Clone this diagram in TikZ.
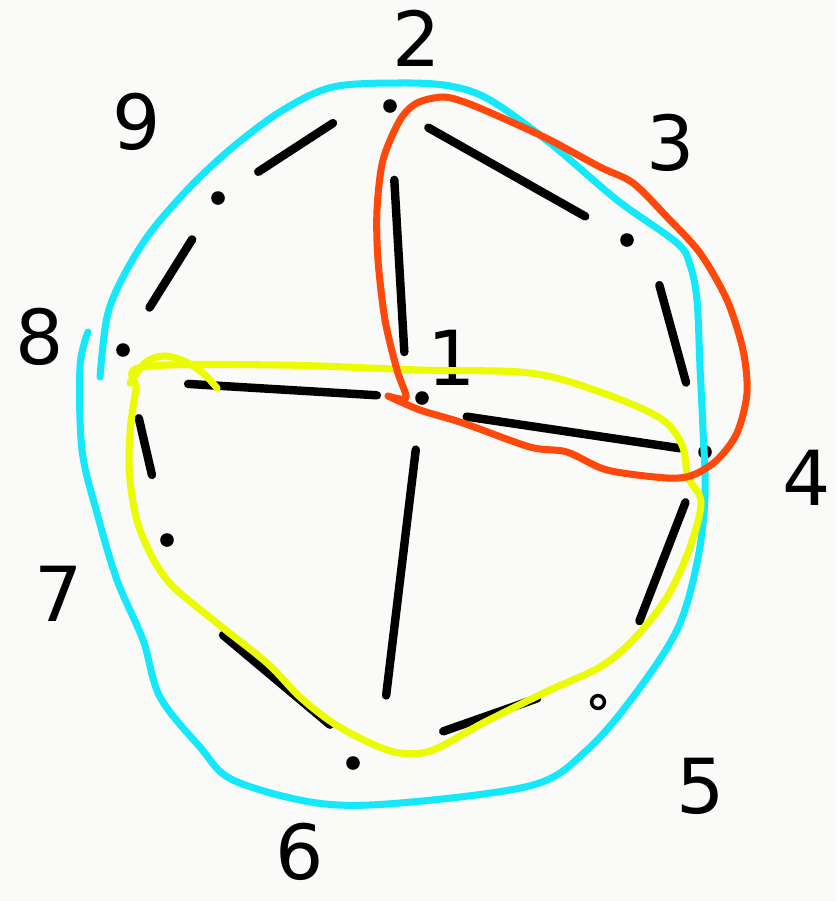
\documentclass[tikz,border=0pt]{standalone}
\usepackage{fontspec}
\setmainfont{DejaVu Sans}
\definecolor{paper}{RGB}{250,250,248}
\definecolor{skyline}{RGB}{20,232,250}
\definecolor{redline}{RGB}{255,72,12}
\definecolor{yellowline}{RGB}{236,252,0}

\begin{document}
\begin{tikzpicture}[
x=0.025cm, y=-0.025cm,
font=\fontsize{54}{54}\selectfont,
dot/.style={circle, fill=black, inner sep=0pt, minimum size=0.34cm},
ring/.style={circle, draw=black, line width=2.5pt, inner sep=0pt, minimum size=0.32cm},
num/.style={inner sep=0pt, text=black},
edge/.style={line width=6pt, line cap=round},
hull/.style={line width=5pt, line cap=round, line join=round}
]
\path[fill=paper] (0,0) rectangle (836,901);
\node[dot] (v1) at (422,398) {};
\node[dot] (v2) at (390,106) {};
\node[dot] (v3) at (627,240) {};
\node[dot] (v4) at (705,452) {};
\node[ring] (v5) at (598,702) {};
\node[dot] (v6) at (353,763) {};
\node[dot] (v7) at (167,540) {};
\node[dot] (v8) at (123,350) {};
\node[dot] (v9) at (218,198) {};
\node[num] (lab1) at (452,358) {1};
\node[num] (lab2) at (417,38) {2};
\node[num] (lab3) at (671,143) {3};
\node[num] (lab4) at (807,478) {4};
\node[num] (lab5) at (701,786) {5};
\node[num] (lab6) at (300,852) {6};
\node[num] (lab7) at (59,594) {7};
\node[num] (lab8) at (40,337) {8};
\node[num] (lab9) at (137,122) {9};
\draw[edge, shorten <=1.7cm, shorten >=1.2cm] ([shift={(0,-20)}]v2.center) -- (v9.center);
\draw[edge, shorten <=1.22cm, shorten >=1.25cm] (v9.center) -- (v8.center);
\draw[edge, shorten <=1.67cm, shorten >=1.75cm] (v7.center) -- (v8.center);
\draw[edge, shorten <=0.75cm, shorten >=1.83cm] ([shift={(0,-19)}]v6.center) -- ([shift={(0,48)}]v7.center);
\draw[edge, shorten <=1.61cm, shorten >=2.39cm] ([shift={(0,-25)}]v5.center) -- (v6.center);
\draw[edge, shorten <=1.35cm, shorten >=2.17cm] (v4.center) -- ([shift={(10,0)}]v5.center);
\draw[edge, shorten <=1.17cm, shorten >=1.8cm] ([shift={(20,0)}]v3.center) -- (v4.center);
\draw[edge, shorten <=1.1cm, shorten >=1.2cm] (v2.center) -- (v3.center);
\draw[edge, shorten <=1.85cm, shorten >=1.15cm] (v2.center) -- ([shift={(-15,0)}]v1.center);
\draw[edge, shorten <=1.63cm, shorten >=1.13cm] ([shift={(0,30)}]v8.center) -- (v1.center);
\draw[edge, shorten <=1.13cm, shorten >=0.63cm] ([shift={(0,12)}]v1.center) -- (v4.center);
\draw[edge, shorten <=1.3cm, shorten >=1.7cm] (v1.center) -- ([shift={(25,0)}]v6.center);
\draw[hull, skyline] plot[smooth, tension=0.55] coordinates {(100,377) (107,317) (123,277) (150,233) (190,187) (233,147) (283,110) (333,87) (400,83) (450,86) (490,100) (550,143) (617,200) (677,243) (690,265) (697,300) (700,367) (703,430) (705,497) (697,563) (677,630) (633,697) (587,750) (533,785) (400,803) (317,803) (233,780) (200,747) (160,697) (143,640) (117,580) (97,513) (82,450) (80,367) (88,332)};
\draw[hull, yellowline] plot[smooth cycle, tension=0.55] coordinates {(143,367) (280,365) (420,370) (530,373) (600,392) (660,418) (682,445) (688,477) (701,502) (690,547) (667,597) (633,640) (600,667) (550,690) (483,723) (433,750) (400,753) (370,743) (333,723) (300,697) (267,663) (217,623) (167,580) (140,530) (130,480) (130,433) (136,390)};
\draw[hull, yellowline] plot[smooth, tension=0.55] coordinates {(130,383) (146,362) (165,356) (186,362) (204,374) (217,388)};
\draw[hull, redline] plot[smooth, tension=0.5] coordinates {(388,396) (420,410) (463,423) (530,447) (567,452) (607,470) (667,478) (693,475) (717,460) (737,433) (747,393) (743,350) (727,300) (700,253) (667,217) (633,183) (600,167) (550,140) (507,120) (467,103) (443,97) (417,103) (400,120) (383,160) (377,210) (378,260) (385,320) (397,370) (406,398) (388,396)};
\end{tikzpicture}
\end{document}
